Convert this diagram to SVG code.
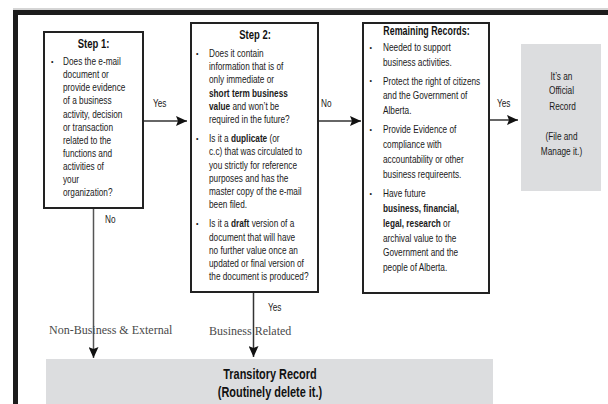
<svg xmlns="http://www.w3.org/2000/svg" width="608" height="404" viewBox="0 0 608 404">
<defs>
<style>
.t{font-family:"Liberation Sans",Arial,sans-serif;font-size:11px;fill:#1a1a1a}
.h{font-family:"Liberation Sans",Arial,sans-serif;font-weight:bold;fill:#111}
.b{font-weight:bold}
.bl{font-family:"Liberation Sans",sans-serif;font-size:7px;fill:#1a1a1a}
.s{font-family:"Liberation Serif",serif;font-size:12px;fill:#4a4a4a}
.box{fill:#fff;stroke:#222;stroke-width:2}
.grey{fill:#dcdddf}
.c{stroke:#333;stroke-width:1.5;fill:none}
</style>
<marker id="ah" markerWidth="11" markerHeight="10" refX="11" refY="5" orient="auto" markerUnits="userSpaceOnUse">
<path d="M0,0 L11,5 L0,10 L2,5 Z" fill="#111"/>
</marker>
</defs>
<rect width="608" height="404" fill="#fff"/>
<line x1="13" y1="9" x2="608" y2="9" stroke="#aaa" stroke-width="1"/>
<rect id="frame" x="15.5" y="12.5" width="700" height="500" fill="none" stroke="#1c1c1c" stroke-width="5"/>

<g id="connectors">
<line class="c" x1="143" y1="121" x2="187" y2="121" marker-end="url(#ah)"/>
<line class="c" x1="318" y1="121" x2="361" y2="121" marker-end="url(#ah)"/>
<line class="c" x1="489" y1="120" x2="518" y2="120" marker-end="url(#ah)"/>
<line class="c" x1="93.5" y1="208" x2="93.5" y2="358" marker-end="url(#ah)" style="stroke:#555"/>
<line class="c" x1="253.5" y1="292" x2="253.5" y2="357" marker-end="url(#ah)"/>
<text class="t" transform="translate(153 107) scale(.75 1)">Yes</text>
<text class="t" transform="translate(321 107) scale(.75 1)">No</text>
<text class="t" transform="translate(497 107) scale(.75 1)">Yes</text>
<text class="t" transform="translate(105 223) scale(.75 1)">No</text>
<text class="t" transform="translate(268 311) scale(.75 1)">Yes</text>
<text class="s" x="49" y="334">Non-Business &amp; External</text>
<text class="s" x="209" y="334.5">Business Related</text>
</g>

<g id="step1">
<rect class="box" x="44" y="32" width="99" height="176"/>
<text class="h" font-size="12.5" text-anchor="middle" transform="translate(93.5 47.5) scale(.76 1)">Step 1:</text>
<text class="bl" x="51" y="64">•</text>
<g transform="translate(63 0) scale(.75 1)">
<text class="t" y="65.2">Does the e-mail</text>
<text class="t" y="78.3">document or</text>
<text class="t" y="91.4">provide evidence</text>
<text class="t" y="104.5">of a business</text>
<text class="t" y="117.6">activity, decision</text>
<text class="t" y="130.7">or transaction</text>
<text class="t" y="143.8">related to the</text>
<text class="t" y="156.9">functions and</text>
<text class="t" y="170">activities of</text>
<text class="t" y="183.1">your</text>
<text class="t" y="196.2">organization?</text>
</g>
</g>

<g id="step2">
<rect class="box" x="191" y="23" width="127" height="269"/>
<text class="h" font-size="12.5" text-anchor="middle" transform="translate(255 38.5) scale(.76 1)">Step 2:</text>
<text class="bl" x="196" y="55.5">•</text>
<text class="bl" x="196" y="140.8">•</text>
<text class="bl" x="196" y="226.1">•</text>
<g transform="translate(209 0) scale(.75 1)">
<text class="t" y="56.7">Does it contain</text>
<text class="t" y="70">information that is of</text>
<text class="t" y="83.3">only immediate or</text>
<text class="t" y="96.6"><tspan class="b">short term business</tspan></text>
<text class="t" y="109.9"><tspan class="b">value</tspan> and won’t be</text>
<text class="t" y="123.2">required in the future?</text>
<text class="t" y="142">Is it a <tspan class="b">duplicate</tspan> (or</text>
<text class="t" y="155.3">c.c) that was circulated to</text>
<text class="t" y="168.6">you strictly for reference</text>
<text class="t" y="181.9">purposes and has the</text>
<text class="t" y="195.2">master copy of the e-mail</text>
<text class="t" y="208.5">been filed.</text>
<text class="t" y="227.3">Is it a <tspan class="b">draft</tspan> version of a</text>
<text class="t" y="240.6">document that will have</text>
<text class="t" y="253.9">no further value once an</text>
<text class="t" y="267.2">updated or final version of</text>
<text class="t" y="280.5">the document is produced?</text>
</g>
</g>

<g id="remaining">
<rect class="box" x="363" y="23" width="126" height="270"/>
<text class="h" font-size="12" text-anchor="middle" transform="translate(426.5 34.5) scale(.74 1)">Remaining Records:</text>
<text class="bl" x="369.5" y="49.6">•</text>
<text class="bl" x="369.5" y="83.4">•</text>
<text class="bl" x="369.5" y="132.1">•</text>
<text class="bl" x="369.5" y="195.7">•</text>
<g transform="translate(383 0) scale(.75 1)">
<text class="t" y="50.8">Needed to support</text>
<text class="t" y="65.7">business activities.</text>
<text class="t" y="84.6">Protect the right of citizens</text>
<text class="t" y="99.5">and the Government of</text>
<text class="t" y="114.4">Alberta.</text>
<text class="t" y="133.3">Provide Evidence of</text>
<text class="t" y="148.2">compliance with</text>
<text class="t" y="163.1">accountability or other</text>
<text class="t" y="178">business requireents.</text>
<text class="t" y="196.9">Have future</text>
<text class="t" y="211.8"><tspan class="b">business, financial,</tspan></text>
<text class="t" y="226.7"><tspan class="b">legal, research</tspan> or</text>
<text class="t" y="241.6">archival value to the</text>
<text class="t" y="256.5">Government and the</text>
<text class="t" y="271.4">people of Alberta.</text>
</g>
</g>

<g id="official">
<rect class="grey" x="521" y="44" width="80" height="147"/>
<g transform="translate(561.5 0) scale(.75 1)">
<text class="t" y="79.7" text-anchor="middle">It’s an</text>
<text class="t" y="94.4" text-anchor="middle">Official</text>
<text class="t" x="1.3" y="109.7" text-anchor="middle">Record</text>
<text class="t" y="140.4" text-anchor="middle">(File and</text>
<text class="t" y="155.4" text-anchor="middle">Manage it.)</text>
</g>
</g>

<g id="transitory">
<rect class="grey" x="46" y="359" width="447" height="50"/>
<g transform="translate(270 0) scale(.78 1)">
<text class="h" y="378.7" font-size="14" text-anchor="middle">Transitory Record</text>
<text class="h" y="397" font-size="14" text-anchor="middle">(Routinely delete it.)</text>
</g>
</g>
</svg>
